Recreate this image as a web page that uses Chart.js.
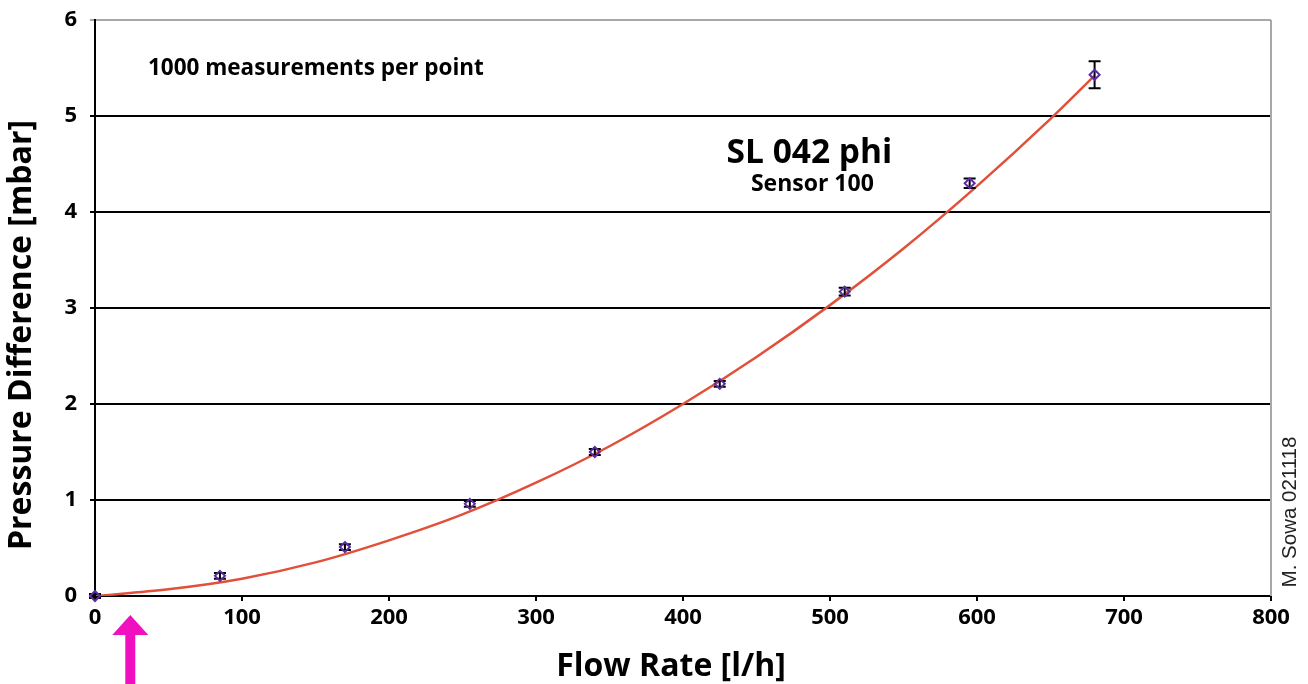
<!DOCTYPE html>
<html>
<head>
<meta charset="utf-8">
<script src="https://cdn.jsdelivr.net/npm/chart.js@4.4.1/dist/chart.umd.min.js"></script>
<style>
  html, body { margin: 0; padding: 0; background: #fff; }
  #wrap { width: 1308px; height: 684px; }
</style>
</head>
<body>
<div id="wrap"><canvas id="flow-chart" width="1308" height="684"></canvas></div>
<script>
/* -------- DATA START -------- */
// measured points, flow rate in l/h and pressure difference in mbar
const flowRates = [0, 85, 170, 255, 340, 425, 510, 595, 680];
const pressures = [0, 0.21, 0.51, 0.96, 1.50, 2.21, 3.17, 4.30, 5.43];
const pressureErrors = [0.02, 0.03, 0.03, 0.03, 0.03, 0.03, 0.04, 0.05, 0.14];

// trend line
const trendFlow = [0, 50, 100, 150, 200, 250, 300, 350, 400, 450, 500, 550, 600, 650, 680];
const trendPressure = [0, 0.07, 0.18, 0.35, 0.58, 0.85, 1.18, 1.56, 2.0, 2.49, 3.03, 3.62, 4.27, 4.97, 5.42];

const xTicks = [0, 100, 200, 300, 400, 500, 600, 700, 800];
const yTicks = [0, 1, 2, 3, 4, 5, 6];
/* -------- DATA END -------- */

const FONT = "'Open Sans', 'DejaVu Sans', sans-serif";

// draws error bars, axis titles, notes, right frame line and the pink arrow
const extrasPlugin = {
    id: "extras",
    afterDatasetsDraw(chart) {
        const ctx = chart.ctx;
        const xs = chart.scales.x;
        const ys = chart.scales.y;
        const area = chart.chartArea;

        ctx.save();
        // right frame line
        ctx.strokeStyle = "#a8a8a8";
        ctx.lineWidth = 2;
        ctx.beginPath();
        ctx.moveTo(area.right, area.top);
        ctx.lineTo(area.right, area.bottom);
        ctx.stroke();

        // error bars
        ctx.strokeStyle = "#000";
        ctx.lineWidth = 2;
        flowRates.forEach((f, i) => {
            const px = xs.getPixelForValue(f);
            const top = ys.getPixelForValue(pressures[i] + pressureErrors[i]);
            const bot = ys.getPixelForValue(pressures[i] - pressureErrors[i]);
            ctx.beginPath();
            ctx.moveTo(px, top);
            ctx.lineTo(px, bot);
            ctx.moveTo(px - 6, top);
            ctx.lineTo(px + 6, top);
            ctx.moveTo(px - 6, bot);
            ctx.lineTo(px + 6, bot);
            ctx.stroke();
        });

        // markers on top of the bars
        const meta = chart.getDatasetMeta(1);
        ctx.strokeStyle = "#5a2da0";
        ctx.lineWidth = 2;
        meta.data.forEach(pt => {
            ctx.beginPath();
            ctx.moveTo(pt.x, pt.y - 5);
            ctx.lineTo(pt.x + 5, pt.y);
            ctx.lineTo(pt.x, pt.y + 5);
            ctx.lineTo(pt.x - 5, pt.y);
            ctx.closePath();
            ctx.stroke();
        });

        // text notes
        ctx.fillStyle = "#000";
        ctx.textBaseline = "middle";
        ctx.textAlign = "left";
        ctx.font = "bold 22.5px " + FONT;
        ctx.fillText("1000 measurements per point", xs.getPixelForValue(36), ys.getPixelForValue(5.49));
        ctx.textAlign = "center";
        ctx.font = "bold 33.5px " + FONT;
        ctx.fillText("SL 042 phi", xs.getPixelForValue(486), ys.getPixelForValue(4.61));
        ctx.font = "bold 23px " + FONT;
        ctx.fillText("Sensor 100", xs.getPixelForValue(488), ys.getPixelForValue(4.29));

        // axis titles
        ctx.font = "bold 32px " + FONT;
        ctx.fillText("Flow Rate [l/h]", 671, 667);
        ctx.save();
        ctx.translate(22, 335);
        ctx.rotate(-Math.PI / 2);
        ctx.fillText("Pressure Difference [mbar]", 0, 0);
        ctx.restore();

        // signature, rotated
        ctx.save();
        ctx.translate(1290, 512);
        ctx.rotate(-Math.PI / 2);
        ctx.font = "20.5px 'Liberation Sans', Arial, sans-serif";
        ctx.fillStyle = "#222";
        ctx.fillText("M. Sowa 021118", 0, 0);
        ctx.restore();

        // pink arrow below the x axis
        const ax = xs.getPixelForValue(24);
        const tip = area.bottom + 19;
        ctx.fillStyle = "#f010c0";
        ctx.beginPath();
        ctx.moveTo(ax, tip);
        ctx.lineTo(ax + 18, tip + 20);
        ctx.lineTo(ax + 5, tip + 20);
        ctx.lineTo(ax + 5, chart.height);
        ctx.lineTo(ax - 5, chart.height);
        ctx.lineTo(ax - 5, tip + 20);
        ctx.lineTo(ax - 18, tip + 20);
        ctx.closePath();
        ctx.fill();
        ctx.restore();
    }
};

document.addEventListener("DOMContentLoaded", () => {
    const ctx = document.getElementById("flow-chart").getContext("2d");
    new Chart(ctx, {
        type: "scatter",
        data: {
            datasets: [
                {
                    type: "line",
                    label: "Trend",
                    data: trendFlow.map((f, i) => ({ x: f, y: trendPressure[i] })),
                    borderColor: "#e0503a",
                    borderWidth: 2.5,
                    pointRadius: 0,
                    cubicInterpolationMode: "monotone",
                    fill: false,
                },
                {
                    label: "Measured",
                    data: flowRates.map((f, i) => ({ x: f, y: pressures[i] })),
                    pointStyle: "rectRot",
                    pointRadius: 0,
                    borderColor: "#5a2da0",
                    backgroundColor: "rgba(0,0,0,0)",
                },
            ],
        },
        options: {
            responsive: false,
            animation: false,
            layout: { padding: { top: 20, right: 37, left: 0, bottom: 0 } },
            plugins: {
                legend: { display: false },
                tooltip: { enabled: false },
            },
            scales: {
                x: {
                    type: "linear",
                    min: 0,
                    max: 800,
                    afterFit: s => { s.height = 88; s.paddingLeft = 0; s.paddingRight = 0; },
                    afterBuildTicks: s => { s.ticks = xTicks.map(v => ({ value: v })); },
                    grid: {
                        drawOnChartArea: false,
                        drawTicks: true,
                        tickLength: 5,
                        color: "#000",
                        lineWidth: 2,
                    },
                    border: { color: "#000", width: 2 },
                    ticks: {
                        color: "#000",
                        padding: 4,
                        font: { family: FONT, size: 22, weight: "bold" },
                    },
                },
                y: {
                    type: "linear",
                    min: 0,
                    max: 6,
                    afterFit: s => { s.width = 95; s.paddingTop = 0; s.paddingBottom = 0; },
                    afterBuildTicks: s => { s.ticks = yTicks.map(v => ({ value: v })); },
                    grid: {
                        drawTicks: true,
                        tickLength: 5,
                        color: c => (c.tick && c.tick.value === 6 ? "#a8a8a8" : "#000"),
                        lineWidth: 2,
                    },
                    border: { color: "#000", width: 2 },
                    ticks: {
                        color: "#000",
                        padding: 13,
                        font: { family: FONT, size: 22, weight: "bold" },
                    },
                },
            },
        },
        plugins: [extrasPlugin],
    });
});
</script>
</body>
</html>
